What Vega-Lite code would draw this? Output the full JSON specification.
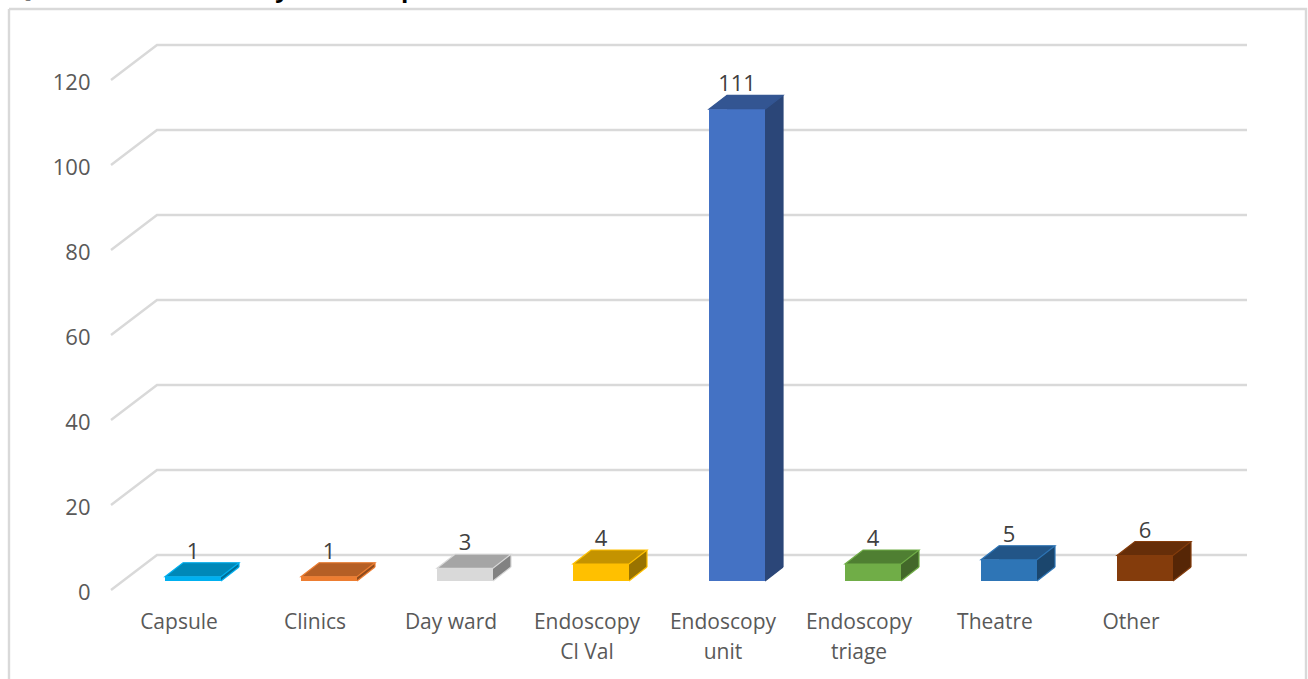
{"$schema":"https://vega.github.io/schema/vega-lite/v6.json","width":1088,"height":510,"autosize":{"type":"none"},"padding":{"left":111,"top":80,"right":109,"bottom":89},"background":"white","config":{"view":{"stroke":null},"font":"Open Sans"},
"datasets":{"bars":[{"category":"Capsule","value":1},{"category":"Clinics","value":1},{"category":"Day ward","value":3},{"category":"Endoscopy Cl Val","value":4},{"category":"Endoscopy unit","value":111},{"category":"Endoscopy triage","value":4},{"category":"Theatre","value":5},{"category":"Other","value":6}],"grid":[{"tick":0},{"tick":20},{"tick":40},{"tick":60},{"tick":80},{"tick":100},{"tick":120}]},
"layer":[
{"data":{"name":"grid"},"mark":{"type":"point","shape":"M0 0L46 -35H1136","size":4,"filled":false,"stroke":"#d9d9d9","strokeWidth":2.4,"opacity":1},"encoding":{"x":{"datum":"Capsule","bandPosition":0,"type":"nominal"},"y":{"field":"tick","type":"quantitative","scale":{"domain":[0,120],"nice":false},"axis":{"values":[0,20,40,60,80,100,120],"domain":false,"ticks":false,"grid":false,"labelFontSize":22,"labelColor":"#595959","labelPadding":21,"labelOffset":2,"title":null,"labelFont":"Open Sans"}}}},
{"data":{"values":[{"frame":120}]},"mark":{"type":"point","shape":"M-102 -71H1195V640M-102 -71V640","size":4,"filled":false,"stroke":"#d9d9d9","strokeWidth":2.4,"opacity":1},"encoding":{"x":{"datum":"Capsule","bandPosition":0,"type":"nominal"},"y":{"field":"frame","type":"quantitative"}}},
{"data":{"values":[{"frame":120,"heading":"Q\u00a0\u00a0\u00a0\u00a0\u00a0\u00a0\u00a0\u00a0\u00a0\u00a0\u00a0\u00a0\u00a0\u00a0\u00a0\u00a0\u00a0\u00a0\u00a0\u00a0\u00a0\u00a0\u00a0\u00a0\u00a0\u00a0\u00a0\u00a0\u00a0\u00a0\u00a0\u00a0\u00a0\u00a0\u00a0\u00a0\u00a0\u00a0\u00a0y\u00a0\u00a0\u00a0\u00a0\u00a0\u00a0\u00a0\u00a0\u00a0\u00a0\u00a0\u00a0\u00a0\u00a0\u00a0\u00a0\u00a0\u00a0p"}]},"mark":{"type":"text","align":"left","baseline":"alphabetic","xOffset":-98,"yOffset":-83,"font":"Open Sans","fontSize":24,"fontWeight":"bold","color":"black"},"encoding":{"x":{"datum":"Capsule","bandPosition":0,"type":"nominal"},"y":{"field":"frame","type":"quantitative"},"text":{"field":"heading","type":"nominal"}}},
{"data":{"name":"bars"},"mark":{"type":"bar","width":56,"xOffset":32,"yOffset":-23},"encoding":{"x":{"field":"category","type":"nominal","sort":null,"scale":{"domain":["Capsule","Clinics","Day ward","Endoscopy Cl Val","Endoscopy unit","Endoscopy triage","Theatre","Other"],"paddingInner":0,"paddingOuter":0},"axis":{"labelAngle":0,"labelAlign":"center","labelBaseline":"top","domain":false,"ticks":false,"title":null,"labelFontSize":21,"labelColor":"#595959","labelPadding":21,"labelLineHeight":30,"labelFont":"Open Sans","labelExpr":"split(replace(datum.label,'Endoscopy ','Endoscopy|'),'|')"}},"y":{"field":"value","type":"quantitative"},"color":{"field":"category","type":"nominal","legend":null,"scale":{"domain":["Capsule","Clinics","Day ward","Endoscopy Cl Val","Endoscopy unit","Endoscopy triage","Theatre","Other"],"range":["#006F97","#8E4B1D","#828282","#997300","#2B4678","#43682A","#1B466D","#562606"]}}}},
{"data":{"name":"bars"},"mark":{"type":"point","shape":"M42 -9L60 -23L42 -23Z","size":4,"filled":true,"opacity":1},"encoding":{"x":{"field":"category","type":"nominal"},"y":{"datum":0,"type":"quantitative"},"color":{"field":"category","type":"nominal","legend":null,"scale":{"domain":["Capsule","Clinics","Day ward","Endoscopy Cl Val","Endoscopy unit","Endoscopy triage","Theatre","Other"],"range":["#006F97","#8E4B1D","#828282","#997300","#2B4678","#43682A","#1B466D","#562606"]}}}},
{"data":{"name":"bars"},"mark":{"type":"point","shape":"M42 -9L60 -23","size":4,"filled":false,"opacity":1,"strokeWidth":1.2},"encoding":{"x":{"field":"category","type":"nominal"},"y":{"datum":0,"type":"quantitative"},"color":{"field":"category","type":"nominal","legend":null,"scale":{"domain":["Capsule","Clinics","Day ward","Endoscopy Cl Val","Endoscopy unit","Endoscopy triage","Theatre","Other"],"range":["#00B0F0","#ED7D31","#D9D9D9","#FFC000","#2B4678","#70AD47","#2E75B6","#843C0C"]}}}},
{"data":{"name":"bars"},"mark":{"type":"rule","xOffset":60,"yOffset":-23,"y2Offset":-23,"strokeWidth":1.2},"encoding":{"x":{"field":"category","type":"nominal"},"y":{"field":"value","type":"quantitative"},"y2":{"datum":0},"color":{"field":"category","type":"nominal","legend":null,"scale":{"domain":["Capsule","Clinics","Day ward","Endoscopy Cl Val","Endoscopy unit","Endoscopy triage","Theatre","Other"],"range":["#00B0F0","#ED7D31","#D9D9D9","#FFC000","#2B4678","#70AD47","#2E75B6","#843C0C"]}}}},
{"data":{"name":"bars"},"mark":{"type":"point","shape":"M-14 -9L42 -9L60 -23L4 -23Z","size":4,"filled":true,"opacity":1,"strokeWidth":1.2},"encoding":{"x":{"field":"category","type":"nominal"},"y":{"field":"value","type":"quantitative"},"color":{"field":"category","type":"nominal","legend":null,"scale":{"domain":["Capsule","Clinics","Day ward","Endoscopy Cl Val","Endoscopy unit","Endoscopy triage","Theatre","Other"],"range":["#0088B8","#B55F25","#A5A5A5","#C49300","#335592","#4F7F32","#225587","#662E09"]}},"stroke":{"field":"category","type":"nominal","legend":null,"scale":{"domain":["Capsule","Clinics","Day ward","Endoscopy Cl Val","Endoscopy unit","Endoscopy triage","Theatre","Other"],"range":["#00B0F0","#ED7D31","#D9D9D9","#FFC000","#335592","#70AD47","#2E75B6","#843C0C"]}}}},
{"data":{"name":"bars"},"mark":{"type":"bar","width":56,"xOffset":14,"yOffset":-9},"encoding":{"x":{"field":"category","type":"nominal"},"y":{"field":"value","type":"quantitative"},"color":{"field":"category","type":"nominal","legend":null,"scale":{"domain":["Capsule","Clinics","Day ward","Endoscopy Cl Val","Endoscopy unit","Endoscopy triage","Theatre","Other"],"range":["#00B0F0","#ED7D31","#D9D9D9","#FFC000","#4472C4","#70AD47","#2E75B6","#843C0C"]}}}},
{"data":{"name":"bars"},"mark":{"type":"text","xOffset":14,"yOffset":-27,"baseline":"alphabetic","fontSize":22,"font":"Open Sans","color":"#404040"},"encoding":{"x":{"field":"category","type":"nominal"},"y":{"field":"value","type":"quantitative"},"text":{"field":"value","type":"quantitative"}}}
],
"resolve":{"scale":{"color":"independent","stroke":"independent"}}}
